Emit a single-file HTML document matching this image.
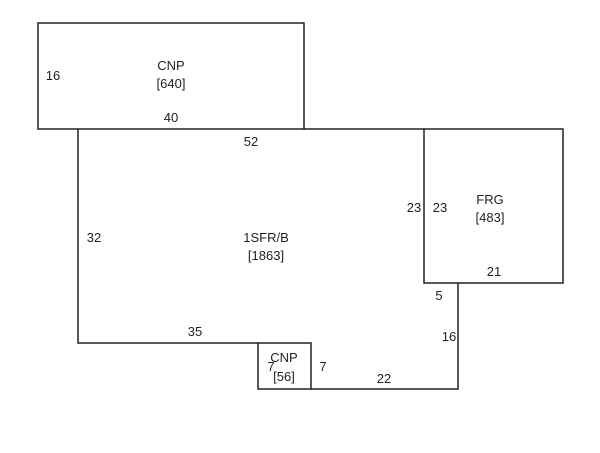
<!DOCTYPE html>
<html><head><style>
body{margin:0;background:#fff;width:600px;height:448px;overflow:hidden}
svg text{font-family:"Liberation Sans",sans-serif;font-size:13px;fill:#222}
</style></head><body>
<svg width="600" height="448" viewBox="0 0 600 448">
<g fill="none" stroke="#222" stroke-width="1.5">
<rect x="38" y="23" width="266" height="106"/>
<polyline points="78,129 78,343 258,343"/>
<line x1="304" y1="129" x2="424" y2="129"/>
<rect x="424" y="129" width="139" height="154"/>
<polyline points="458,283 458,389 311,389"/>
<rect x="258" y="343" width="53" height="46"/>
</g>
<g text-anchor="middle">
<text x="171" y="70">CNP</text><text x="171" y="88">[640]</text>
<text x="53" y="80">16</text>
<text x="171" y="122">40</text>
<text x="251" y="146">52</text>
<text x="94" y="242">32</text>
<text x="266" y="242">1SFR/B</text><text x="266" y="260">[1863]</text>
<text x="195" y="336">35</text>
<text x="414" y="212">23</text>
<text x="440" y="212">23</text>
<text x="490" y="204">FRG</text><text x="490" y="222">[483]</text>
<text x="494" y="276">21</text>
<text x="439" y="300">5</text>
<text x="449" y="341">16</text>
<text x="284" y="362">CNP</text><text x="284" y="381">[56]</text>
<text x="271" y="371">7</text>
<text x="323" y="371">7</text>
<text x="384" y="383">22</text>
</g>
</svg>
</body></html>
